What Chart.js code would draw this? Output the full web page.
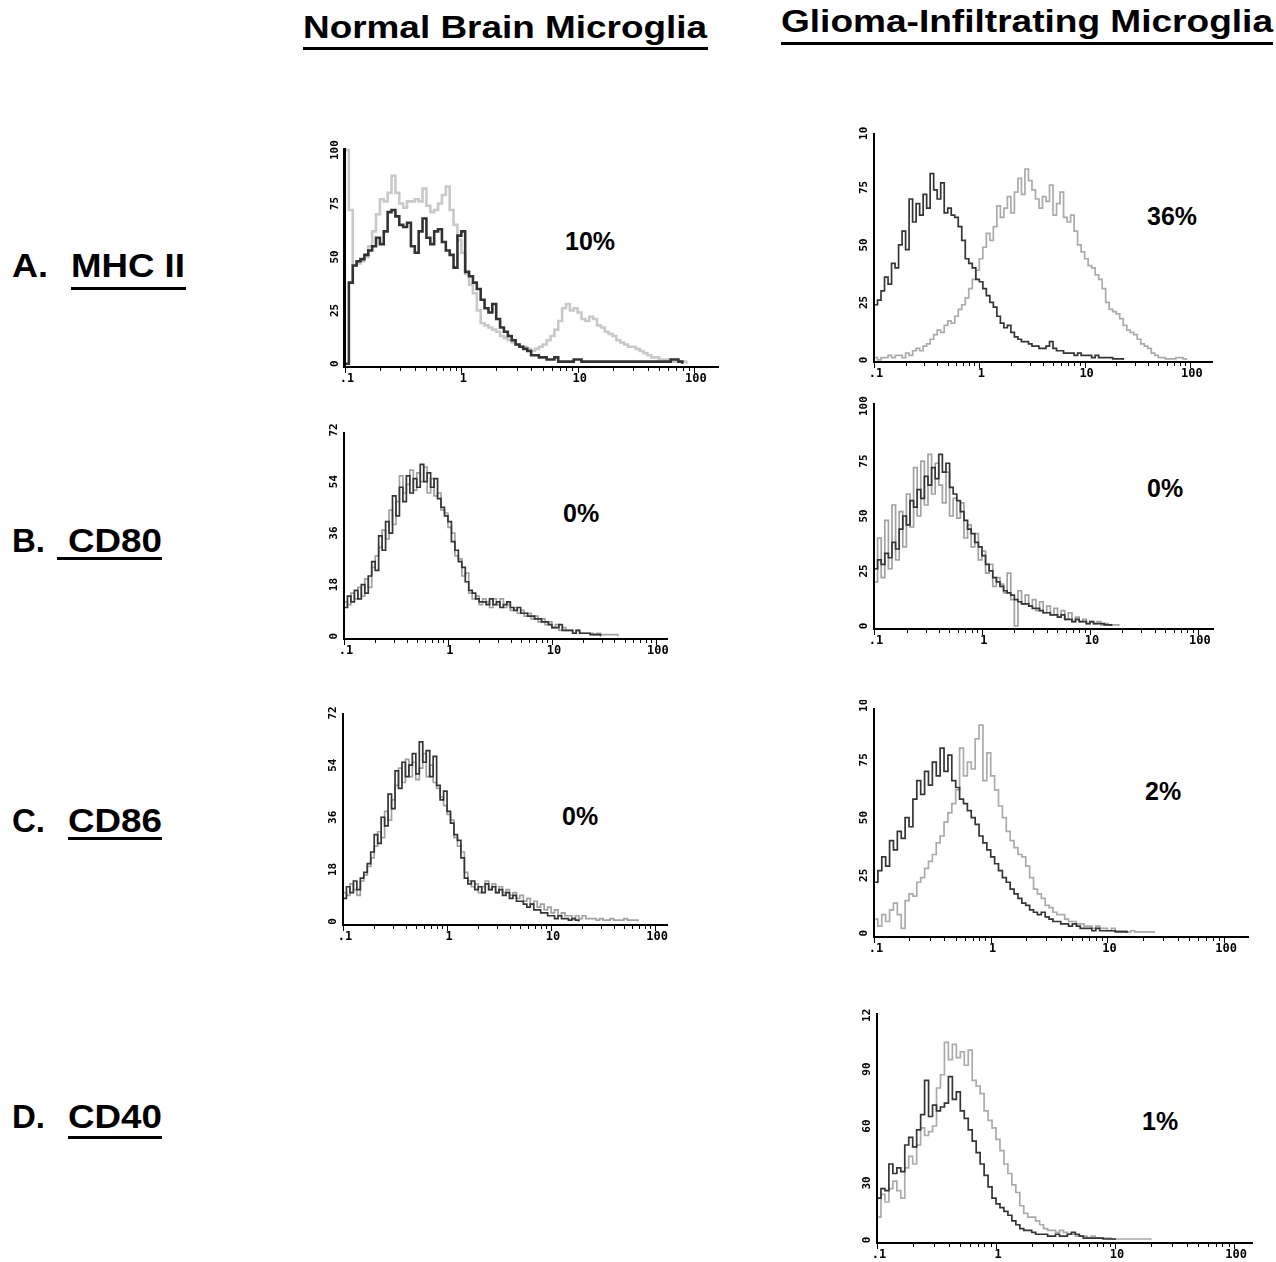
<!DOCTYPE html>
<html>
<head>
<meta charset="utf-8">
<script src="https://cdn.jsdelivr.net/npm/chart.js@4.4.0/dist/chart.umd.min.js"></script>
<style>
  html, body { margin: 0; padding: 0; background: #fff; }
  #page { position: relative; width: 1276px; height: 1262px; overflow: hidden; background: #fff; }
  .t { position: absolute; white-space: nowrap; font-family: "Liberation Sans", Arial, sans-serif; font-weight: bold; color: #000; transform-origin: 0 0; }
  .ul { position: absolute; background: #000; height: 3px; }
  canvas { position: absolute; }
</style>
</head>
<body>
<div id="page"></div>
<script>
// ---------------- DATA ----------------
// Histograms: one value per channel bin, 30 bins per decade, first bin at 0.1
const BINS_PER_DECADE = 30;
const X_START = 0.1;

const xTickValues = [0.1, 1, 10, 100];
const xTickLabels = ['.1', '1', '10', '100'];
const yTicks100 = [0, 25, 50, 75, 100];
const yTicks72 = [0, 18, 36, 54, 72];
const yTicks120 = [0, 30, 60, 90, 120];
const yTickLabels120 = ['0', '30', '60', '90', '120'];

const columnTitles = ['Normal Brain Microglia', 'Glioma-Infiltrating Microglia'];
const rowLetters = ['A.', 'B.', 'C.', 'D.'];
const rowMarkers = ['MHC II', 'CD80', 'CD86', 'CD40'];
const percentPositive = { mhcNormal: '10%', mhcGlioma: '36%', cd80Normal: '0%', cd80Glioma: '0%', cd86Normal: '0%', cd86Glioma: '2%', cd40Glioma: '1%' };

// A. MHC II - normal brain
const mhcNormalDark = [0,38,46,48,49,51,53,55,59,56,62,71,72,69,65,64,66,55,52,62,68,59,56,62,63,57,53,51,45,60,62,43,41,38,35,30,26,24,28,21,17,15,13,11,9,8,7,6,4,4,3,3,2,2,3,1,1,1,1,2,2,1,1,1,1,1,1,1,1,1,1,1,1,1,1,1,1,1,1,1,1,1,1,1,2,2,1,0];
const mhcNormalLight = [100,72,46,47,48,50,55,62,70,77,76,80,88,80,75,73,76,76,77,76,82,74,71,72,75,79,83,72,65,58,52,42,37,33,25,19,18,17,16,15,13,12,11,10,9,8,8,7,6,7,8,9,11,13,16,20,26,28,25,26,24,21,20,22,21,18,17,15,14,13,11,10,9,8,8,7,6,5,4,3,3,2,2,2,1,1,1,1,0];
// A. MHC II - glioma
const mhcGliomaDark = [24,26,30,36,33,42,40,50,56,48,70,60,68,63,72,66,81,74,70,77,64,66,63,62,58,52,44,42,40,35,34,31,28,25,23,19,16,14,15,12,10,9,8,8,7,6,6,5,5,6,8,5,4,4,3,3,3,2,3,2,2,2,1,2,1,1,1,1,0.5,0.5,0.5,0];
const mhcGliomaLight = [1,0,1,1,2,1,2,2,1,3,2,4,5,4,6,7,9,11,13,12,15,17,16,19,22,24,27,31,35,39,44,49,55,52,58,67,62,66,71,64,73,79,72,83,78,74,70,66,71,69,76,63,68,73,62,60,63,56,50,47,44,41,40,37,35,31,25,22,21,20,18,15,13,12,11,9,7,6,5,3,2,1,1,0.5,0.5,0.5,1,1,0.5,0];
// B. CD80 - normal brain
const cd80NormalDark = [10,14,12,16,13,18,15,21,26,23,35,30,40,36,49,42,52,47,56,50,55,52,60,54,57,52,55,48,45,42,40,33,30,26,24,19,16,15,13,12,12,11,13,11,12,10,11,12,10,9,10,8,8,7,7,6,6,5,5,4,3,3,4,2,2,2,1,2,1,1,1,0.5,0.5,0.5,0];
const cd80NormalLight = [12,11,15,13,17,14,20,17,24,28,31,37,34,44,39,47,56,50,53,58,51,57,54,59,50,55,49,50,44,43,38,36,28,27,21,22,15,13,14,11,13,12,10,13,11,13,10,11,9,10,8,9,7,8,6,7,5,6,4,5,3,4,2,3,2,2,1,2,1,1,1,1,0.5,1,0.5,0.5,0.5,0.5,0.5,0];
// B. CD80 - glioma
const cd80GliomaDark = [26,30,28,33,31,38,35,44,50,46,57,54,62,58,68,64,72,67,78,70,74,63,60,57,52,48,44,42,38,36,32,28,25,22,20,18,16,15,14,12,11,10,10,9,8,8,7,6,6,5,5,4,5,3,3,2,3,2,2,1,2,1,1,1,0.5,0.5,0];
const cd80GliomaLight = [20,40,22,48,26,55,30,52,36,60,45,72,50,75,55,78,60,74,64,56,70,50,58,49,56,40,46,36,42,30,34,24,28,18,22,19,15,24,12,0,16,10,14,9,12,7,11,6,9,5,8,4,7,3,6,2,4,2,3,1,2,1,2,0.5,1,0.5,0.5,0.5,0];
// C. CD86 - normal brain
const cd86NormalDark = [8,12,10,14,11,15,17,20,24,30,27,36,33,44,39,52,46,55,50,54,58,51,62,55,59,50,57,47,42,45,38,34,30,28,22,15,13,14,11,12,10,13,11,12,10,11,9,10,8,9,7,7,6,5,6,4,4,3,3,2,2,1,2,1,1,0.5,1,0.5,0];
const cd86NormalLight = [10,9,13,11,9,14,16,19,22,26,31,29,38,35,42,47,53,48,56,50,55,49,53,58,50,54,48,46,43,40,37,35,29,26,24,17,14,12,13,10,12,14,11,13,10,12,10,11,9,10,8,9,7,8,6,7,5,6,4,5,3,4,2,3,2,2,1,2,1,2,1,1,1,0.5,1,0.5,0.5,1,0.5,0.5,0.5,1,0.5,0.5,0.5,0];
// C. CD86 - glioma
const cd86GliomaDark = [22,27,33,29,40,36,44,41,50,46,58,66,60,70,64,74,68,80,70,77,66,63,58,56,53,50,47,42,39,36,33,30,27,24,22,19,17,15,13,12,10,9,8,9,7,6,5,5,4,4,3,4,3,2,2,2,1,2,1,1,1,1,0.5,0.5,0.5,0];
const cd86GliomaLight = [6,3,8,5,10,13,8,2,14,17,16,22,24,28,31,34,39,42,48,52,56,62,80,68,74,71,84,90,66,78,68,62,55,50,44,40,37,34,33,29,24,19,17,15,12,11,9,8,8,6,5,5,4,4,3,3,2,3,2,2,1,2,1,1,1,0.5,1,0.5,0.5,0.5,0.5,0.5,0];
// D. CD40 - glioma
const cd40GliomaDark = [22,27,26,40,35,38,36,50,54,49,58,66,84,65,71,68,70,72,86,74,78,68,64,58,52,46,40,34,28,22,19,17,15,13,10,8,6,5,5,4,3,3,3,2,2,3,2,2,3,4,3,2,1,1,1,1,1,0.5,0.5,0.5,0];
const cd40GliomaLight = [12,24,20,27,31,26,22,38,44,40,50,59,55,57,60,80,87,104,95,103,96,99,92,100,84,81,77,68,63,59,53,47,40,35,29,25,18,14,12,12,10,8,6,5,5,4,5,4,3,3,2,2,2,1,2,1,1,1,1,0.5,0.5,0.5,0.5,0.5,0.5,0.5,0.5,0.5,0.5,0];

// ---------------- LAYOUT ----------------
const panels = [
  { dark: mhcNormalDark, light: mhcNormalLight, yTicks: yTicks100, rect: { l: 345, r: 718, t: 148, b: 367 }, xMax: 161, yMin: -1.5, yMax: 101, padTop: 16, axisW: 3, lw: 2.6, darkColor: '#333333', lightColor: '#c9c9c9' },
  { dark: mhcGliomaDark, light: mhcGliomaLight, yTicks: yTicks100, rect: { l: 874, r: 1212, t: 133, b: 362 }, xMax: 162, yMin: -0.9, yMax: 98.7, padTop: 7, axisW: 2, lw: 1.7, darkColor: '#353535', lightColor: '#ababab' },
  { dark: cd80NormalDark, light: cd80NormalLight, yTicks: yTicks72, rect: { l: 344, r: 667, t: 432, b: 639 }, xMax: 128, yMin: -1.0, yMax: 71.3, padTop: 10, axisW: 2, lw: 1.7, darkColor: '#353535', lightColor: '#a2a2a2' },
  { dark: cd80GliomaDark, light: cd80GliomaLight, yTicks: yTicks100, rect: { l: 874, r: 1213, t: 403, b: 629 }, xMax: 138, yMin: -1.4, yMax: 101.4, padTop: 8, axisW: 2, lw: 1.7, darkColor: '#353535', lightColor: '#a2a2a2' },
  { dark: cd86NormalDark, light: cd86NormalLight, yTicks: yTicks72, rect: { l: 343, r: 667, t: 713, b: 925 }, xMax: 130, yMin: -1.2, yMax: 72, padTop: 10, axisW: 2, lw: 1.7, darkColor: '#353535', lightColor: '#a2a2a2' },
  { dark: cd86GliomaDark, light: cd86GliomaLight, yTicks: yTicks100, rect: { l: 874, r: 1248, t: 708, b: 937 }, xMax: 160, yMin: -1.7, yMax: 97.4, padTop: 8, axisW: 2, lw: 1.7, darkColor: '#353535', lightColor: '#ababab' },
  { dark: cd40GliomaDark, light: cd40GliomaLight, yTicks: yTicks120, yLabels: yTickLabels120, rect: { l: 877, r: 1252, t: 1013, b: 1243 }, xMax: 141.6, yMin: -1.6, yMax: 119.5, padTop: 5, axisW: 2, lw: 1.7, darkColor: '#353535', lightColor: '#ababab' }
];

const page = document.getElementById('page');

function addText(txt, left, baseline, size, fitWidth) {
  const s = document.createElement('span');
  s.className = 't';
  s.textContent = txt;
  s.style.fontSize = size + 'px';
  s.style.lineHeight = size + 'px';
  s.style.left = left + 'px';
  s.style.top = (baseline - 0.8465 * size) + 'px';
  page.appendChild(s);
  if (fitWidth) {
    const w = s.getBoundingClientRect().width;
    s.style.transform = 'scaleX(' + (fitWidth / w) + ')';
  }
  return s;
}
function addRule(x1, x2, y) {
  const d = document.createElement('div');
  d.className = 'ul';
  d.style.left = x1 + 'px';
  d.style.width = (x2 - x1) + 'px';
  d.style.top = y + 'px';
  page.appendChild(d);
}

// column titles
addText(columnTitles[0], 303, 38, 32, 404); addRule(303, 708, 47);
addText(columnTitles[1], 781, 32.5, 32, 492); addRule(781, 1273, 42);
// row labels
const rowBase = [277, 552, 832, 1128];
const rowUl = [[71, 186, 287], [57, 162, 557], [68, 162, 837], [68, 162, 1136]];
const rowMarkerPos = [[71, 114], [68, 94], [68, 94], [68, 94]];
for (let i = 0; i < 4; i++) {
  addText(rowLetters[i], 12, rowBase[i], 33, i === 0 ? 36 : 33);
  addText(rowMarkers[i], rowMarkerPos[i][0], rowBase[i], 33, rowMarkerPos[i][1]);
  addRule(rowUl[i][0], rowUl[i][1], rowUl[i][2]);
}
// percentages
addText(percentPositive.mhcNormal, 565, 250, 25);
addText(percentPositive.mhcGlioma, 1147, 225, 25);
addText(percentPositive.cd80Normal, 563, 522, 25);
addText(percentPositive.cd80Glioma, 1147, 497, 25);
addText(percentPositive.cd86Normal, 562, 825, 25);
addText(percentPositive.cd86Glioma, 1145, 800, 25);
addText(percentPositive.cd40Glioma, 1142, 1130, 25);

// ---------------- CHARTS ----------------
const axisPlugin = {
  id: 'facsAxes',
  afterDatasetsDraw(chart, args, opts) {
    const ctx = chart.ctx;
    const a = chart.chartArea;
    const xs = chart.scales.x, ys = chart.scales.y;
    ctx.save();
    ctx.fillStyle = '#000';
    ctx.strokeStyle = '#000';
    // y axis line
    ctx.fillRect(a.left - opts.axisW + 1, a.top, opts.axisW, a.bottom - a.top + 1);
    // x axis line
    ctx.fillRect(a.left - opts.axisW + 1, a.bottom - 1, a.right - a.left + opts.axisW, 2);
    // x ticks (log decades, minor at 2..9)
    ctx.lineWidth = 1;
    for (let dec = 0.1; dec <= 100.0001; dec *= 10) {
      for (let m = 1; m <= 9; m++) {
        const v = dec * m;
        if (v > opts.xMax) break;
        const px = Math.round(xs.getPixelForValue(v)) + 0.5;
        const len = m === 1 ? 6 : 4;
        ctx.beginPath();
        ctx.moveTo(px, a.bottom);
        ctx.lineTo(px, a.bottom + len);
        ctx.stroke();
      }
    }
    // x labels
    ctx.font = 'bold 12px "DejaVu Sans Mono", monospace';
    ctx.textAlign = 'center';
    ctx.textBaseline = 'middle';
    xTickValues.forEach((v, i) => {
      ctx.fillText(xTickLabels[i], xs.getPixelForValue(v) + 2, a.bottom + 12);
    });
    // y labels (rotated, reading bottom to top)
    ctx.font = 'bold 11px "DejaVu Sans Mono", monospace';
    opts.yTicks.forEach((v, i) => {
      const py = ys.getPixelForValue(v);
      ctx.save();
      ctx.translate(a.left - 10, py);
      ctx.rotate(-Math.PI / 2);
      ctx.fillText(opts.yLabels ? opts.yLabels[i] : String(v), 0, 0);
      ctx.restore();
    });
    ctx.restore();
  }
};

function toPoints(arr) {
  return arr.map((v, i) => ({ x: X_START * Math.pow(10, i / BINS_PER_DECADE), y: v }));
}

panels.forEach(p => {
  const padL = 30, padR = 8, padB = 22;
  const w = p.rect.r - p.rect.l + padL + padR;
  const h = p.rect.b - p.rect.t + p.padTop + padB;
  const c = document.createElement('canvas');
  c.width = w; c.height = h;
  c.style.width = w + 'px'; c.style.height = h + 'px';
  c.style.left = (p.rect.l - padL) + 'px';
  c.style.top = (p.rect.t - p.padTop) + 'px';
  page.appendChild(c);
  new Chart(c.getContext('2d'), {
    type: 'line',
    data: {
      datasets: [
        { data: toPoints(p.dark), borderColor: p.darkColor, borderWidth: p.lw, stepped: true, pointRadius: 0, fill: false, order: 1 },
        { data: toPoints(p.light), borderColor: p.lightColor, borderWidth: p.lw, stepped: true, pointRadius: 0, fill: false, order: 2 }
      ]
    },
    options: {
      responsive: false,
      animation: false,
      devicePixelRatio: 1,
      layout: { padding: { left: padL, right: padR, top: p.padTop, bottom: padB } },
      plugins: { legend: { display: false }, tooltip: { enabled: false }, facsAxes: { axisW: p.axisW, xMax: p.xMax, yTicks: p.yTicks, yLabels: p.yLabels } },
      scales: {
        x: { type: 'logarithmic', min: X_START, max: p.xMax, display: false },
        y: { type: 'linear', min: p.yMin, max: p.yMax, display: false }
      }
    },
    plugins: [axisPlugin]
  });
});
</script>
</body>
</html>
